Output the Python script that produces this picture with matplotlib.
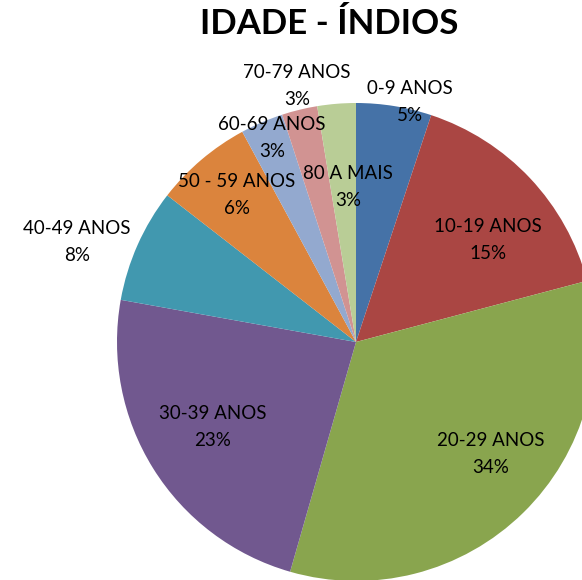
import matplotlib
matplotlib.use("Agg")
from matplotlib import pyplot as plt

labels = ["0-9 ANOS", "10-19 ANOS", "20-29 ANOS", "30-39 ANOS", "40-49 ANOS",
          "50 - 59 ANOS", "60-69 ANOS", "70-79 ANOS", "80 A MAIS"]
# slice shares (percent)
shares = [5.1, 15.8, 33.6, 23.4, 7.7, 6.6, 2.9, 2.4, 2.6]
# percentages as printed on the chart
pct_text = ["5%", "15%", "34%", "23%", "8%", "6%", "3%", "3%", "3%"]
colors = ["#4572A7", "#AA4643", "#89A54E", "#71588F", "#4198AF",
          "#DB843D", "#93A9CF", "#D19392", "#B9CD96"]

# label centres in pixels (x, y from top)
label_px = [(410, 102), (488, 240), (491, 454), (213, 427), (77, 242),
            (237, 195), (272, 138), (297, 86), (348, 187)]

W, H = 582, 580
cx, cy, r = 356, 342, 239

plt.rcParams['font.family'] = ['Lato', 'DejaVu Sans']
fig = plt.figure(figsize=(W / 100, H / 100), dpi=100)
ax = fig.add_axes([0, 0, 1, 1])
ax.pie(shares, colors=colors, startangle=90, counterclock=False, radius=1,
       wedgeprops=dict(linewidth=0))
ax.set_aspect('auto')
ax.set_xlim(-cx / r, (W - cx) / r)
ax.set_ylim(-(H - cy) / r, cy / r)
ax.axis('off')

for lab, p, (px, py) in zip(labels, pct_text, label_px):
    ax.text((px - cx) / r, (cy - py) / r, f"{lab}\n{p}", ha='center', va='center',
            fontsize=13.5, linespacing=1.75, color='black')

fig.text(329 / W, 1 - 24 / H, "IDADE - ÍNDIOS", ha='center', va='center',
         fontsize=25, fontweight='bold')

fig.savefig("out.png", dpi=100)
